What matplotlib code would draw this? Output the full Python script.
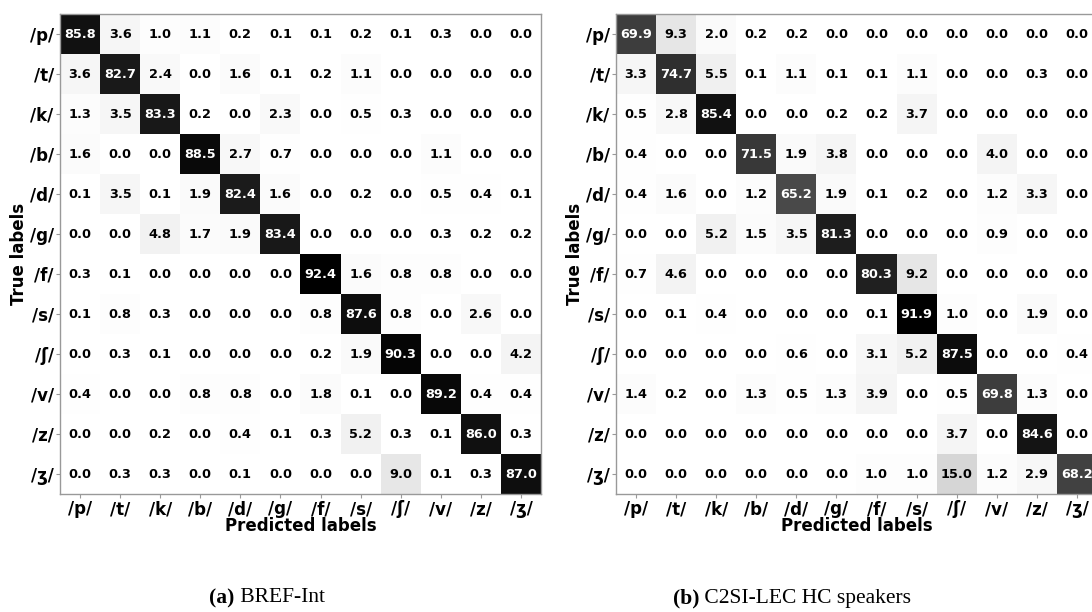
import numpy as np
import matplotlib
matplotlib.use('Agg')
import matplotlib.pyplot as plt

labels = ['/p/', '/t/', '/k/', '/b/', '/d/', '/g/', '/f/', '/s/', '/ʃ/', '/v/', '/z/', '/ʒ/']

# (a) BREF-Int
cm_bref = [
    [85.8, 3.6, 1.0, 1.1, 0.2, 0.1, 0.1, 0.2, 0.1, 0.3, 0.0, 0.0],
    [3.6, 82.7, 2.4, 0.0, 1.6, 0.1, 0.2, 1.1, 0.0, 0.0, 0.0, 0.0],
    [1.3, 3.5, 83.3, 0.2, 0.0, 2.3, 0.0, 0.5, 0.3, 0.0, 0.0, 0.0],
    [1.6, 0.0, 0.0, 88.5, 2.7, 0.7, 0.0, 0.0, 0.0, 1.1, 0.0, 0.0],
    [0.1, 3.5, 0.1, 1.9, 82.4, 1.6, 0.0, 0.2, 0.0, 0.5, 0.4, 0.1],
    [0.0, 0.0, 4.8, 1.7, 1.9, 83.4, 0.0, 0.0, 0.0, 0.3, 0.2, 0.2],
    [0.3, 0.1, 0.0, 0.0, 0.0, 0.0, 92.4, 1.6, 0.8, 0.8, 0.0, 0.0],
    [0.1, 0.8, 0.3, 0.0, 0.0, 0.0, 0.8, 87.6, 0.8, 0.0, 2.6, 0.0],
    [0.0, 0.3, 0.1, 0.0, 0.0, 0.0, 0.2, 1.9, 90.3, 0.0, 0.0, 4.2],
    [0.4, 0.0, 0.0, 0.8, 0.8, 0.0, 1.8, 0.1, 0.0, 89.2, 0.4, 0.4],
    [0.0, 0.0, 0.2, 0.0, 0.4, 0.1, 0.3, 5.2, 0.3, 0.1, 86.0, 0.3],
    [0.0, 0.3, 0.3, 0.0, 0.1, 0.0, 0.0, 0.0, 9.0, 0.1, 0.3, 87.0],
]

# (b) C2SI-LEC HC speakers
cm_c2si = [
    [69.9, 9.3, 2.0, 0.2, 0.2, 0.0, 0.0, 0.0, 0.0, 0.0, 0.0, 0.0],
    [3.3, 74.7, 5.5, 0.1, 1.1, 0.1, 0.1, 1.1, 0.0, 0.0, 0.3, 0.0],
    [0.5, 2.8, 85.4, 0.0, 0.0, 0.2, 0.2, 3.7, 0.0, 0.0, 0.0, 0.0],
    [0.4, 0.0, 0.0, 71.5, 1.9, 3.8, 0.0, 0.0, 0.0, 4.0, 0.0, 0.0],
    [0.4, 1.6, 0.0, 1.2, 65.2, 1.9, 0.1, 0.2, 0.0, 1.2, 3.3, 0.0],
    [0.0, 0.0, 5.2, 1.5, 3.5, 81.3, 0.0, 0.0, 0.0, 0.9, 0.0, 0.0],
    [0.7, 4.6, 0.0, 0.0, 0.0, 0.0, 80.3, 9.2, 0.0, 0.0, 0.0, 0.0],
    [0.0, 0.1, 0.4, 0.0, 0.0, 0.0, 0.1, 91.9, 1.0, 0.0, 1.9, 0.0],
    [0.0, 0.0, 0.0, 0.0, 0.6, 0.0, 3.1, 5.2, 87.5, 0.0, 0.0, 0.4],
    [1.4, 0.2, 0.0, 1.3, 0.5, 1.3, 3.9, 0.0, 0.5, 69.8, 1.3, 0.0],
    [0.0, 0.0, 0.0, 0.0, 0.0, 0.0, 0.0, 0.0, 3.7, 0.0, 84.6, 0.0],
    [0.0, 0.0, 0.0, 0.0, 0.0, 0.0, 1.0, 1.0, 15.0, 1.2, 2.9, 68.2],
]

captions = [('(a)', 'BREF-Int'), ('(b)', 'C2SI-LEC HC speakers')]

W, H = 1092, 612
fig = plt.figure(figsize=(W / 100, H / 100), dpi=100)


def draw_cm(ax, cm):
    cm = np.array(cm)
    ax.imshow(cm, cmap='gray_r', vmin=0, vmax=cm.max(), interpolation='nearest', aspect='auto')
    thresh = cm.max() / 2
    for i in range(cm.shape[0]):
        for j in range(cm.shape[1]):
            ax.text(j, i, '%.1f' % cm[i, j], ha='center', va='center',
                    fontsize=9.3, fontweight='bold',
                    color='white' if cm[i, j] > thresh else 'black')
    ax.set_xticks(range(len(labels)))
    ax.set_yticks(range(len(labels)))
    ax.set_xticklabels(labels, fontsize=12, fontweight='bold')
    ax.set_yticklabels(labels, fontsize=12, fontweight='bold')
    ax.tick_params(length=3, color='#999999', pad=1.5)
    for s in ax.spines.values():
        s.set_color('#999999')
        s.set_linewidth(1.0)
    ax.set_xlabel('Predicted labels', fontsize=12, fontweight='bold', labelpad=-1)
    ax.set_ylabel('True labels', fontsize=12, fontweight='bold', labelpad=1)


# axes placed in pixel units (left, bottom, width, height)
ax1 = fig.add_axes([60 / W, 118 / H, 481 / W, 480 / H])
ax2 = fig.add_axes([616 / W, 118 / H, 481 / W, 480 / H])
draw_cm(ax1, cm_bref)
draw_cm(ax2, cm_c2si)

# sub-figure captions: bold tag followed by regular name, centred as one line
fig.canvas.draw()
r = fig.canvas.get_renderer()
cy = 1 - 598 / H
for cx, (tag, name) in zip([267, 792], captions):
    tg = fig.text(0, cy, tag, fontsize=15.5, family='Liberation Serif',
                  fontweight='bold', va='center')
    nm = fig.text(0, cy, ' ' + name, fontsize=15.5, family='Liberation Serif', va='center')
    w1 = tg.get_window_extent(r).width
    w2 = nm.get_window_extent(r).width
    x0 = cx - (w1 + w2) / 2
    tg.set_x(x0 / W)
    nm.set_x((x0 + w1) / W)

fig.savefig('out.png', dpi=100)
